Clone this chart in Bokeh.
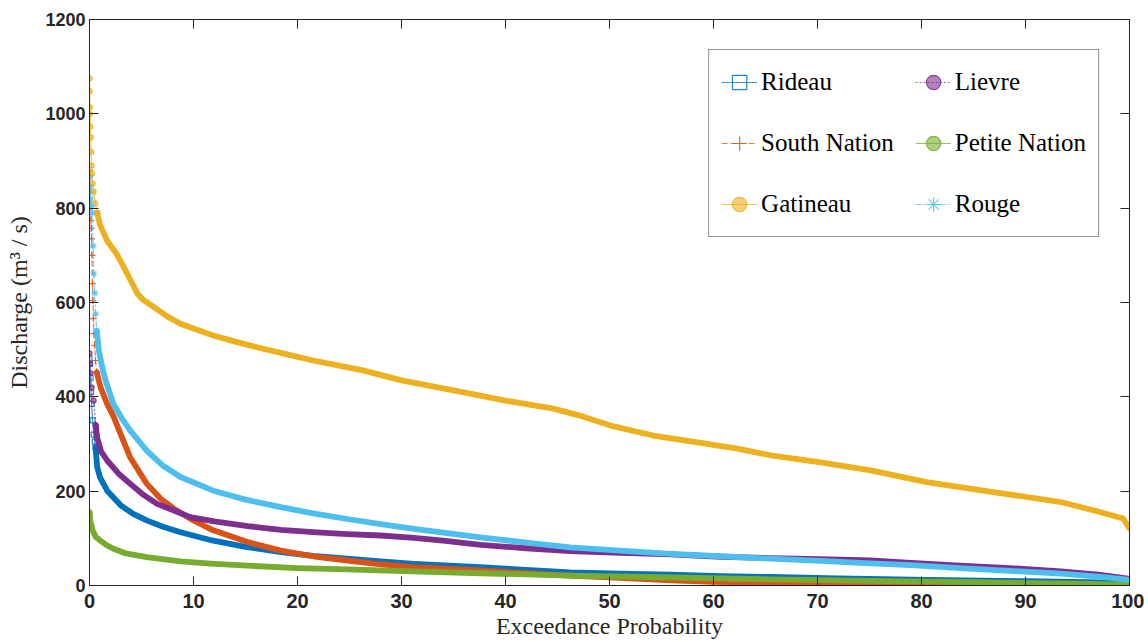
from bokeh.plotting import figure
from bokeh.models import Legend, LegendItem, LinearAxis, FixedTicker, Range1d
from bokeh.embed import file_html
from bokeh.resources import INLINE

# ---------------- data ----------------
rideau_x = [0, 0.05, 0.1, 0.15, 0.2, 0.3, 0.4, 0.5, 0.58, 0.74, 1.0, 1.7, 3.0, 4.2, 5.5, 7, 8.75, 11.9,
            15, 18.4, 21.5, 24.8, 28, 31.2, 37.6, 42, 46.2, 51, 55.9, 60.7, 65.5, 72, 80.5, 90, 96, 100]
rideau_y = [481, 470, 440, 410, 385, 350, 320, 305, 293, 251, 230, 201, 170, 152, 138, 125, 113, 95,
            82, 71, 63, 57, 51, 46, 39, 33, 28, 25, 23, 20, 18, 15, 12, 9, 7, 5]

south_x = [0, 0.05, 0.1, 0.14, 0.17, 0.2, 0.24, 0.28, 0.33, 0.38, 0.43, 0.5, 0.58, 0.7, 1.06, 1.7, 2.34,
           3.1, 3.9, 5.5, 6.8, 8.1, 10, 11.9, 15.2, 18.4, 21.5, 24.8, 28, 31.2, 37.6, 42, 46.2, 51, 55.9,
           60, 65.5, 72, 80, 90, 100]
south_y = [880, 869, 834, 774, 757, 735, 700, 640, 604, 566, 534, 509, 477, 452, 420, 385, 357,
           315, 272, 216, 185, 163, 138, 117, 92, 74, 62, 53, 45, 39, 32, 26, 21, 16, 11,
           8, 6, 4, 2.5, 1.5, 0.8]

gatineau_x = [0, 0.02, 0.04, 0.06, 0.09, 0.12, 0.16, 0.2, 0.25, 0.3, 0.4, 0.55, 0.75, 1.0, 1.7, 2.6,
              3.3, 4.0, 4.6, 5.2, 6.2, 7.5, 8.75, 10, 11.9, 14, 16.7, 19, 21.5, 24, 26.3, 30, 33, 36.6,
              40, 44.6, 47.5, 50.1, 54.2, 58, 62.3, 65.5, 70.3, 75.1, 80.5, 86.9, 93.4, 96.6, 99.4, 100]
gatineau_y = [1075, 1048, 1014, 1000, 973, 950, 919, 890, 873, 852, 835, 810, 790, 765, 731, 703,
              675, 645, 619, 605, 590, 570, 555, 545, 530, 517, 502, 490, 477, 466, 456, 435, 422, 407,
              392, 375, 358, 339, 318, 305, 290, 276, 261, 244, 219, 198, 177, 159, 142, 121]

lievre_x = [0, 0.05, 0.1, 0.2, 0.4, 0.6, 0.74, 1.1, 1.7, 2.8, 3.9, 5.2, 6.5, 8, 9.7, 12, 15.2, 18.4,
            21.5, 24.8, 28, 31.2, 34, 37.6, 42, 46.2, 51, 55.9, 60.7, 65.5, 70.3, 75.1, 79, 83.7, 88.5,
            93.4, 97, 100]
lievre_y = [492, 470, 450, 420, 392, 340, 314, 285, 265, 237, 216, 192, 173, 160, 145, 136, 126, 118,
            113, 109, 106, 101, 95, 86, 79, 73, 69, 66, 61, 58, 56, 53, 48, 42, 37,
            30, 23, 14]

petite_x = [0, 0.1, 0.3, 0.6, 1.06, 1.6, 2.3, 3.5, 5.5, 8.75, 12, 15.2, 20, 24.8, 31, 37.6, 46.2,
            55.9, 65.5, 75, 85, 95, 100]
petite_y = [155, 135, 117, 103, 95, 86, 78, 68, 60, 51, 46, 42, 37, 34, 30, 26, 21,
            17, 13, 10, 7, 4, 2]

rouge_x = [0, 0.05, 0.12, 0.2, 0.26, 0.34, 0.42, 0.5, 0.58, 0.7, 0.9, 1.15, 1.54, 2.3, 3.1, 3.9, 5.5,
           7, 8.75, 11.9, 15, 18.4, 21.5, 24.8, 28, 31.2, 34.4, 37.6, 42, 46.2, 51, 55.9, 60.7, 65.5,
           70.3, 75.1, 79, 83.7, 88.5, 93.4, 97, 100]
rouge_y = [866, 845, 820, 805, 790, 720, 661, 620, 576, 540, 498, 470, 435, 385, 355, 329, 286,
           255, 230, 201, 182, 166, 153, 141, 130, 120, 111, 102, 91, 81, 74, 67, 62, 57,
           52, 47, 43, 37, 31, 25, 19, 12]

x_ticks = [0, 10, 20, 30, 40, 50, 60, 70, 80, 90, 100]
y_ticks = [0, 200, 400, 600, 800, 1000, 1200]

# ---------------- styles ----------------
series = [
    # name, x, y, colour, dash, marker, head points
    ("Rideau", rideau_x, rideau_y, "#0072BD", "solid", "square", 9),
    ("South Nation", south_x, south_y, "#D95319", "6 3", "cross", 14),
    ("Gatineau", gatineau_x, gatineau_y, "#EDB120", "solid", "circle", 13),
    ("Lievre", lievre_x, lievre_y, "#7E2F8E", "2 2", "circle", 6),
    ("Petite Nation", petite_x, petite_y, "#77AC30", "solid", "circle", 1),
    ("Rouge", rouge_x, rouge_y, "#4DBEEE", "6 2 2 2", "asterisk", 10),
]
legend_order = ["Rideau", "Lievre", "South Nation", "Petite Nation", "Gatineau", "Rouge"]

AX = "#262626"
p = figure(width=1144, height=642, output_backend="svg", toolbar_location=None,
           x_range=Range1d(0, 100), y_range=Range1d(0, 1200),
           min_border_left=89, min_border_right=15, min_border_top=19, min_border_bottom=57)
p.background_fill_color = "white"
p.border_fill_color = "white"
p.outline_line_color = AX
p.outline_line_width = 1
p.xgrid.visible = False
p.ygrid.visible = False

handles = {}
for name, xs, ys, col, dash, marker, head in series:
    thin = p.line(xs, ys, line_color=col, line_width=1.2, line_dash=dash, line_alpha=0.75)
    body = p.line(xs[head - 1:], ys[head - 1:], line_color=col, line_width=5.8,
                  line_join="round", line_cap="round")
    msize = 7 if marker in ("cross", "asterisk") else 5
    if marker == "square":
        sc = p.scatter(xs[:head], ys[:head], marker=marker, size=msize, line_color=col,
                       fill_color=None, line_width=1.2, line_alpha=0.85)
    else:
        sc = p.scatter(xs[:head], ys[:head], marker=marker, size=msize, line_color=col,
                       fill_color=col, fill_alpha=0.6, line_width=1.2, line_alpha=0.85)
    handles[name] = [thin, sc]

legend = Legend(items=[LegendItem(label=n, renderers=handles[n]) for n in legend_order],
                location="top_right", orientation="horizontal", ncols=2)
legend.label_text_font = "Liberation Serif"
legend.label_text_font_size = "25px"
legend.label_text_color = "black"
legend.glyph_width = 36
legend.glyph_height = 40
legend.label_height = 40
legend.label_standoff = 4
legend.spacing = 21
legend.padding = 12
legend.margin = 30
legend.border_line_color = AX
legend.border_line_width = 1
legend.background_fill_alpha = 1
p.add_layout(legend)

for ax in (p.xaxis[0], p.yaxis[0]):
    ax.axis_line_color = AX
    ax.major_tick_line_color = AX
    ax.major_tick_in = 9
    ax.major_tick_out = 0
    ax.minor_tick_line_color = None
    ax.major_label_text_font = "Liberation Sans"
    ax.major_label_text_font_style = "bold"
    ax.major_label_text_color = AX
    ax.axis_label_text_font = "Liberation Serif"
    ax.axis_label_text_font_style = "normal"
    ax.axis_label_text_font_size = "24px"
    ax.axis_label_text_color = AX

p.xaxis[0].ticker = FixedTicker(ticks=x_ticks)
p.yaxis[0].ticker = FixedTicker(ticks=y_ticks)
p.xaxis[0].major_label_text_font_size = "20px"
p.yaxis[0].major_label_text_font_size = "18px"
p.xaxis[0].major_label_standoff = 8
p.yaxis[0].major_label_standoff = 4
p.xaxis[0].axis_label = "Exceedance Probability"
p.yaxis[0].axis_label = "Discharge (m³ / s)"
p.xaxis[0].axis_label_standoff = 2
p.yaxis[0].axis_label_standoff = 10

# mirrored ticks on top and right (box style)
for loc, tk in (("above", x_ticks), ("right", y_ticks)):
    a = LinearAxis(ticker=FixedTicker(ticks=tk))
    a.axis_line_color = AX
    a.major_tick_line_color = AX
    a.major_tick_in = 9
    a.major_tick_out = 0
    a.minor_tick_line_color = None
    a.major_label_text_font_size = "0px"
    a.major_label_text_color = None
    a.major_label_standoff = 0
    p.add_layout(a, loc)

open("out.html", "w").write(file_html(p, INLINE))
